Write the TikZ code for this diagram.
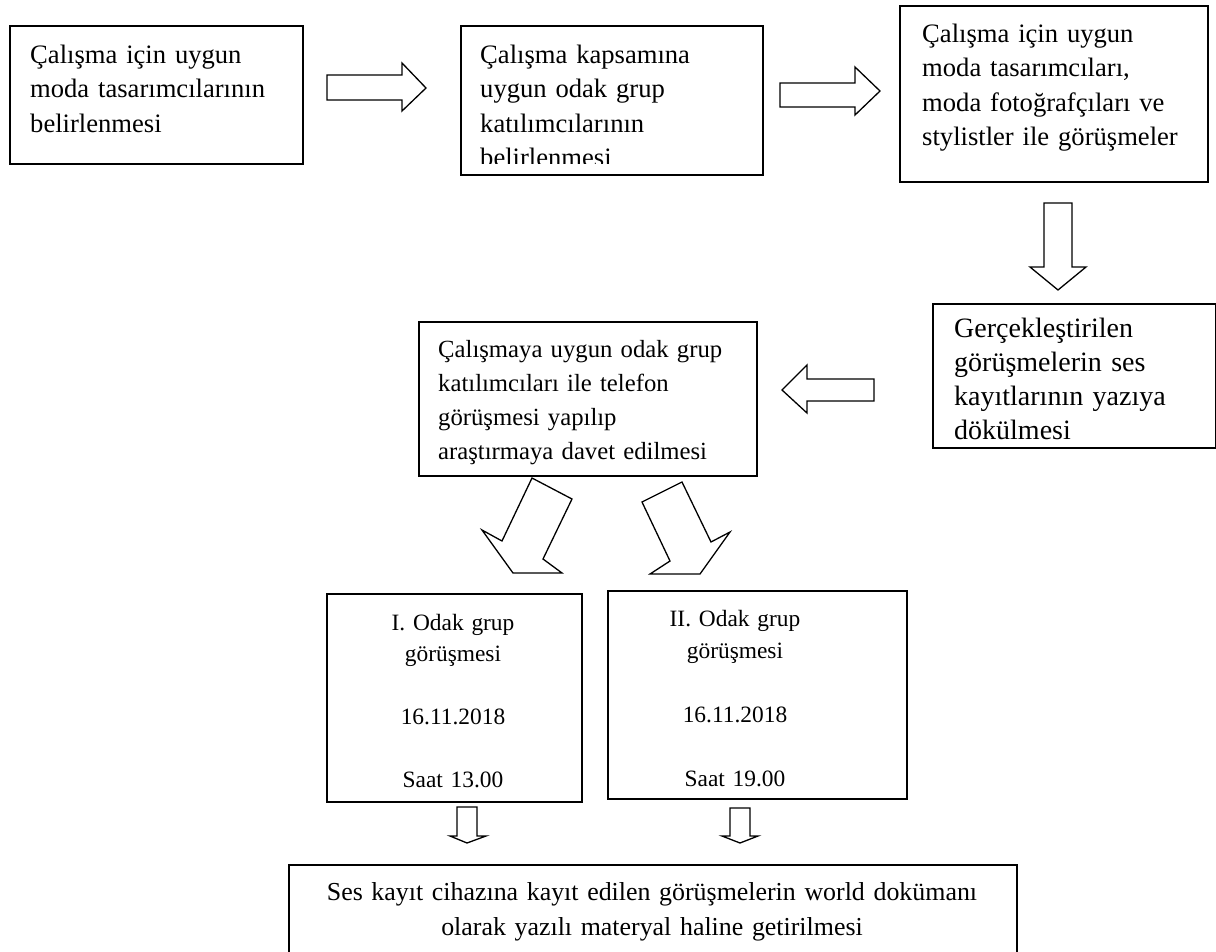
\documentclass[tikz,border=0pt]{standalone}
\usepackage{fontspec}
\setmainfont{Liberation Serif}
\begin{document}
\begin{tikzpicture}[x=1pt,y=-1pt,
  box/.style={draw, line width=1.5pt, inner sep=0pt, anchor=north west},
  txt/.style={inner sep=0pt, anchor=base west, align=left, text width=#1},
  ctxt/.style={inner sep=0pt, anchor=base, align=center, text width=#1},
  blk/.style={draw, line width=1.3pt, fill=white, line join=miter},
  big/.style={font=\fontsize{26.6}{34.5}\selectfont},
  mid/.style={font=\fontsize{24.7}{34}\selectfont},
  small/.style={font=\fontsize{23.4}{31.5}\selectfont}]
\useasboundingbox (0,0) rectangle (1216,951);
\clip (0,0) rectangle (1216,951);

% boxes
\node[box, minimum width=293pt, minimum height=138pt] (b1) at (9,25) {};
\node[box, minimum width=302pt, minimum height=149pt] (b2) at (460,25) {};
\node[box, minimum width=308pt, minimum height=176pt] (b3) at (899,5) {};
\node[box, minimum width=283pt, minimum height=144pt] (b4) at (932,303) {};
\node[box, minimum width=338pt, minimum height=154pt] (b5) at (418,321) {};
\node[box, minimum width=255pt, minimum height=208pt] (b6) at (326,593) {};
\node[box, minimum width=299pt, minimum height=208pt] (b7) at (607,590) {};
\node[box, minimum width=728pt, minimum height=110pt] (b8) at (288,864) {};

% texts
\node[txt=270pt, big] (t1) at (30,63) {Çalışma için uygun\\moda tasarımcılarının\\belirlenmesi};
\begin{scope}
\clip (460,25) rectangle (762,163);
\node[txt=270pt, big] (t2) at (480,63) {Çalışma kapsamına\\uygun odak grup\\katılımcılarının\\belirlenmesi};
\end{scope}
\node[txt=280pt, big] (t3) at (922,42) {Çalışma için uygun\\moda tasarımcıları,\\moda fotoğrafçıları ve\\stylistler ile görüşmeler};
\node[txt=255pt, font=\fontsize{28}{34}\selectfont] (t4) at (954,337) {Gerçekleştirilen\\görüşmelerin ses\\kayıtlarının yazıya\\dökülmesi};
\begin{scope}
\clip (418,321) rectangle (756,465);
\node[txt=310pt, mid] (t5) at (438,357) {Çalışmaya uygun odak grup\\katılımcıları ile telefon\\görüşmesi yapılıp\\araştırmaya davet edilmesi};
\end{scope}
\node[ctxt=240pt, small] (t6) at (453,630) {I. Odak grup\\görüşmesi\\[31.5pt]16.11.2018\\[31.5pt]Saat 13.00};
\node[ctxt=240pt, font=\fontsize{23.4}{32}\selectfont] (t7) at (735,626) {II. Odak grup\\görüşmesi\\[32pt]16.11.2018\\[32pt]Saat 19.00};
\node[ctxt=720pt, font=\fontsize{25.9}{35}\selectfont] (t8) at (652,900) {Ses kayıt cihazına kayıt edilen görüşmelerin world dokümanı\\olarak yazılı materyal haline getirilmesi};

% block arrows
\draw[blk] (327,75) -- (402,75) -- (402,63) -- (426,88) -- (402,111) -- (402,100) -- (327,100) -- cycle;
\draw[blk] (780,83) -- (855,83) -- (855,67) -- (880,91) -- (855,115) -- (855,107) -- (780,107) -- cycle;
\draw[blk] (1044,203) -- (1072,203) -- (1072,267) -- (1086,267) -- (1058,290) -- (1030,267) -- (1044,267) -- cycle;
\draw[blk] (874,379) -- (807,379) -- (807,365) -- (782,390) -- (807,413) -- (807,401) -- (874,401) -- cycle;
\draw[blk] (532,478) -- (572,499) -- (543,559) -- (562,573) -- (513,573) -- (482,530) -- (502,541) -- cycle;
\draw[blk] (642,502) -- (682,482) -- (711,542) -- (730,532) -- (700,574) -- (650,574) -- (670,561) -- cycle;
\draw[blk] (457,807) -- (477,807) -- (477,836) -- (486,836) -- (467,843) -- (450,836) -- (457,836) -- cycle;
\draw[blk] (730,808) -- (750,808) -- (750,836) -- (758,836) -- (740,843) -- (722,836) -- (730,836) -- cycle;
\end{tikzpicture}
\end{document}
